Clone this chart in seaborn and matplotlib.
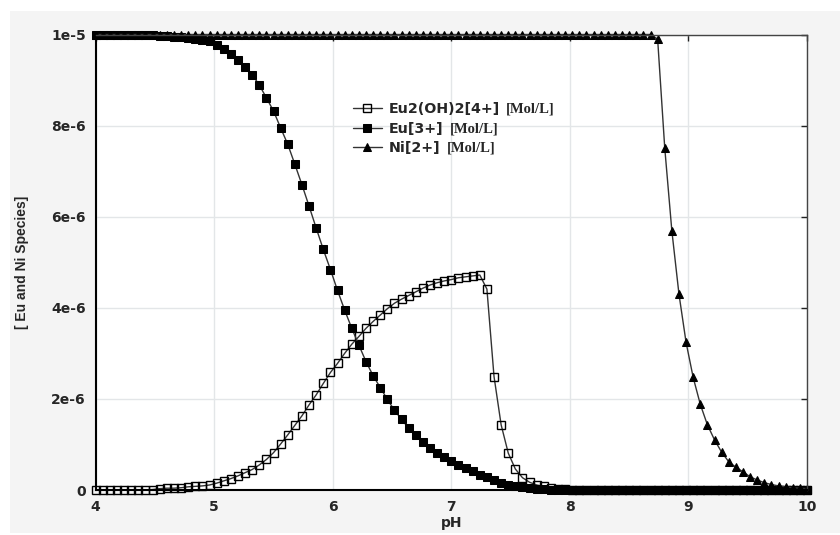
import numpy as np
import pandas as pd
import matplotlib
matplotlib.use("Agg")
import matplotlib.pyplot as plt
from matplotlib.patches import Rectangle
import seaborn as sns

# pH grid of the speciation run: 4 to 10 in steps of 0.06 (101 points)
ph = np.round(np.linspace(4.0, 10.0, 101), 2)

# concentrations, in units of 1e-6 mol/L
eu2oh2 = [0.0, 0.0, 0.0, 0.0, 0.0, 0.0, 0.0, 0.0, 0.01, 0.03,
          0.04, 0.04, 0.05, 0.07, 0.08, 0.09, 0.11, 0.15, 0.20, 0.25,
          0.31, 0.38, 0.45, 0.55, 0.67, 0.82, 1.01, 1.21, 1.42, 1.63,
          1.87, 2.09, 2.34, 2.58, 2.78, 3.00, 3.20, 3.37, 3.55, 3.70,
          3.84, 3.98, 4.10, 4.19, 4.27, 4.35, 4.43, 4.50, 4.55, 4.59,
          4.62, 4.66, 4.68, 4.70, 4.72, 4.41, 2.49, 1.43, 0.81, 0.46,
          0.27, 0.17, 0.11, 0.08, 0.05, 0.03, 0.02, 0.01, 0.0, 0.0,
          0.0, 0.0, 0.0, 0.0, 0.0, 0.0, 0.0, 0.0, 0.0, 0.0,
          0.0, 0.0, 0.0, 0.0, 0.0, 0.0, 0.0, 0.0, 0.0, 0.0,
          0.0, 0.0, 0.0, 0.0, 0.0, 0.0, 0.0, 0.0, 0.0, 0.0,
          0.0]
eu3 = [10.0, 10.0, 10.0, 10.0, 9.99, 9.99, 9.99, 9.98, 9.98, 9.97,
       9.96, 9.95, 9.94, 9.93, 9.91, 9.89, 9.85, 9.78, 9.68, 9.57,
       9.44, 9.29, 9.12, 8.89, 8.61, 8.32, 7.95, 7.59, 7.15, 6.70,
       6.23, 5.75, 5.28, 4.84, 4.38, 3.95, 3.55, 3.18, 2.82, 2.51,
       2.25, 1.99, 1.75, 1.55, 1.36, 1.20, 1.06, 0.93, 0.82, 0.72,
       0.63, 0.55, 0.48, 0.41, 0.34, 0.28, 0.22, 0.16, 0.11, 0.08,
       0.06, 0.04, 0.03, 0.02, 0.01, 0.01, 0.0, 0.0, 0.0, 0.0,
       0.0, 0.0, 0.0, 0.0, 0.0, 0.0, 0.0, 0.0, 0.0, 0.0,
       0.0, 0.0, 0.0, 0.0, 0.0, 0.0, 0.0, 0.0, 0.0, 0.0,
       0.0, 0.0, 0.0, 0.0, 0.0, 0.0, 0.0, 0.0, 0.0, 0.0,
       0.0]
ni2 = [10.0] * 79 + [9.9,
       7.51, 5.69, 4.30, 3.24, 2.47, 1.88, 1.43, 1.10, 0.83, 0.62,
       0.50, 0.40, 0.29, 0.22, 0.16, 0.12, 0.09, 0.07, 0.05, 0.04,
       0.03]

series_names = ["Eu2(OH)2[4+]", "Eu[3+]", "Ni[2+]"]
unit_label = "[Mol/L]"
x_ticks = [4, 5, 6, 7, 8, 9, 10]
y_ticks = [0, 2e-6, 4e-6, 6e-6, 8e-6, 1e-5]
y_tick_labels = ["0", "2e-6", "4e-6", "6e-6", "8e-6", "1e-5"]

df = pd.DataFrame({
    "pH": ph,
    series_names[0]: np.array(eu2oh2) * 1e-6,
    series_names[1]: np.array(eu3) * 1e-6,
    series_names[2]: np.array(ni2) * 1e-6,
})

sns.set_style("white")
plt.rcParams["font.family"] = ["DejaVu Sans"]

fig = plt.figure(figsize=(8.4, 5.35), dpi=100)
fig.patch.set_facecolor("white")
fig.patches.append(Rectangle((10 / 840, 2 / 535), 830 / 840, 522 / 535,
                             transform=fig.transFigure, facecolor="#f4f4f4",
                             edgecolor="none", zorder=-10))
ax = fig.add_axes([95.7 / 840, 45 / 535, 711.3 / 840, 455.5 / 535])
ax.set_facecolor("white")

styles = [
    dict(marker="s", markersize=5.4, markerfacecolor="none", markeredgecolor="black", markeredgewidth=1.0),
    dict(marker="s", markersize=5.3, markerfacecolor="black", markeredgecolor="black"),
    dict(marker="^", markersize=5.5, markerfacecolor="black", markeredgecolor="black"),
]
for name, st in zip(series_names, styles):
    sns.lineplot(data=df, x="pH", y=name, ax=ax, estimator=None, color="#333333",
                 linewidth=1.0, label=name, clip_on=False, **st)

ax.set_xlim(4, 10)
ax.set_ylim(0, 1e-5)
ax.set_xticks(x_ticks)
ax.set_yticks(y_ticks)
ax.set_yticklabels(y_tick_labels)
ax.grid(True, color="#e3e6e8", linewidth=1.0)
ax.tick_params(direction="in", length=4, width=1, top=True, right=True,
               labelsize=10, pad=7, color="#222222")
for lab in ax.get_xticklabels() + ax.get_yticklabels():
    lab.set_fontweight("bold")
for side in ["left", "bottom"]:
    ax.spines[side].set_color("black")
    ax.spines[side].set_linewidth(1.5)
for side in ["top", "right"]:
    ax.spines[side].set_color("#444444")
    ax.spines[side].set_linewidth(1.0)

ax.set_xlabel("pH", fontsize=10, fontweight="bold")
ax.set_ylabel("[ Eu and Ni Species]", fontsize=10, fontweight="bold",
              family=["Liberation Sans", "DejaVu Sans"])
ax.xaxis.set_label_coords(0.5, -0.057)
ax.yaxis.set_label_coords(-0.094, 0.5)

leg = ax.legend(loc="upper left", bbox_to_anchor=(0.362, 0.851), frameon=False,
                borderpad=0, borderaxespad=0, handlelength=2.0, handletextpad=0.5,
                labelspacing=0.38, prop={"weight": "bold", "size": 10.3})

# unit suffix in a serif face after each legend entry
fig.canvas.draw()
inv = fig.transFigure.inverted()
for txt in leg.get_texts():
    bb = txt.get_window_extent()
    fx, fy = inv.transform((bb.x1 + 6, (bb.y0 + bb.y1) / 2))
    fig.text(fx, fy, unit_label, va="center", ha="left",
             family=["Liberation Serif", "DejaVu Serif"], fontweight="bold",
             fontsize=10.5)

fig.savefig("out.png", dpi=100)
